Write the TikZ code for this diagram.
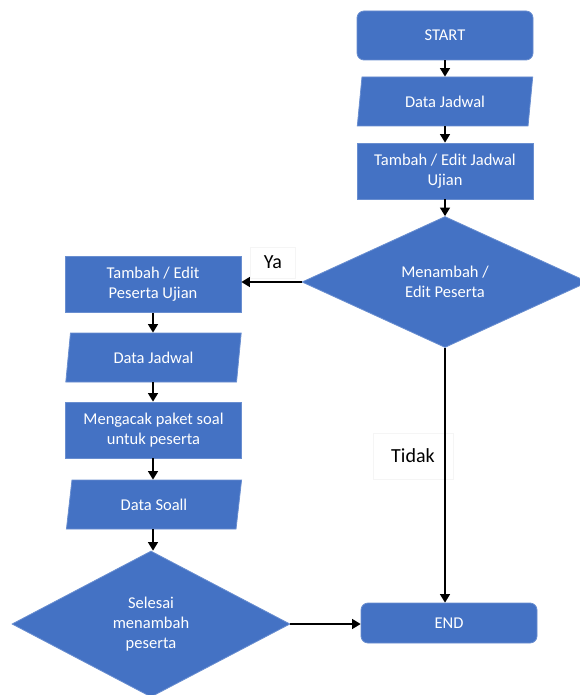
\documentclass[tikz,border=0pt]{standalone}
\usepackage{fontspec}
\setmainfont{Carlito}
\usetikzlibrary{shapes.geometric,arrows.meta}
\definecolor{flowblue}{HTML}{4472C4}
\begin{document}
\begin{tikzpicture}[x=1pt,y=-1pt,
  base/.style={fill=flowblue, draw=flowblue!80!white, line width=0.8pt, text=white,
    font=\fontsize{16.5}{20}\selectfont, align=center, inner sep=0pt},
  terminal/.style={base, rectangle, rounded corners=7pt, minimum width=176pt},
  process/.style={base, rectangle, minimum width=176pt, minimum height=56pt},
  iobox/.style={base, trapezium, trapezium left angle=79, trapezium right angle=101,
    trapezium stretches=true, minimum width=176pt, minimum height=49pt},
  decision/.style={base, diamond},
  flow/.style={line width=1.4pt, -{Triangle[length=8.5pt,width=10pt]}},
  lbl/.style={font=\fontsize{20}{24}\selectfont, fill=white, draw=black!4, line width=0.6pt, inner sep=0pt}]
\useasboundingbox (0,0) rectangle (580,695);

% right column
\node[terminal, minimum height=49pt] (start) at (445,35.5) {START};
\node[iobox] (dj1) at (445,101.5) {Data Jadwal};
\node[process] (tej) at (445,171) {Tambah / Edit Jadwal\\Ujian};
\node[decision, minimum width=286pt, minimum height=131pt] (dec1) at (445,282) {Menambah /\\Edit Peserta};
\node[terminal, minimum height=40pt] (end) at (449,623) {END};

% left column
\node[process] (tep) at (153,284.5) {Tambah / Edit\\Peserta Ujian};
\node[iobox] (dj2) at (153.5,357.5) {Data Jadwal};
\node[process] (acak) at (153.5,430) {Mengacak paket soal\\untuk peserta};
\node[iobox] (ds) at (154,504.5) {Data Soall};
\node[decision, minimum width=278pt, minimum height=146pt] (dec2) at (151,624) {Selesai\\menambah\\peserta};

% branch labels
\node[lbl, minimum width=45pt, minimum height=31pt] (ya) at (273,262.5) {Ya};
\node[lbl, minimum width=80pt, minimum height=46pt] (tidak) at (413,456) {Tidak};

% connectors
\draw[flow] (start.south) -- (start.south |- dj1.north);
\draw[flow] (dj1.south) -- (dj1.south |- tej.north);
\draw[flow] (tej.south) -- (tej.south |- dec1.north);
\draw[flow] (dec1.west) -- (dec1.west -| tep.east);
\draw[flow] (tep.south) -- (tep.south |- dj2.north);
\draw[flow] (tep.south |- dj2.south) -- (tep.south |- acak.north);
\draw[flow] (tep.south |- acak.south) -- (tep.south |- ds.north);
\draw[flow] (tep.south |- ds.south) -- (tep.south |- dec2.north);
\draw[flow] (dec2.east) -- (dec2.east -| end.west);
\draw[flow] (dec1.south) -- (dec1.south |- end.north);
\end{tikzpicture}
\end{document}
